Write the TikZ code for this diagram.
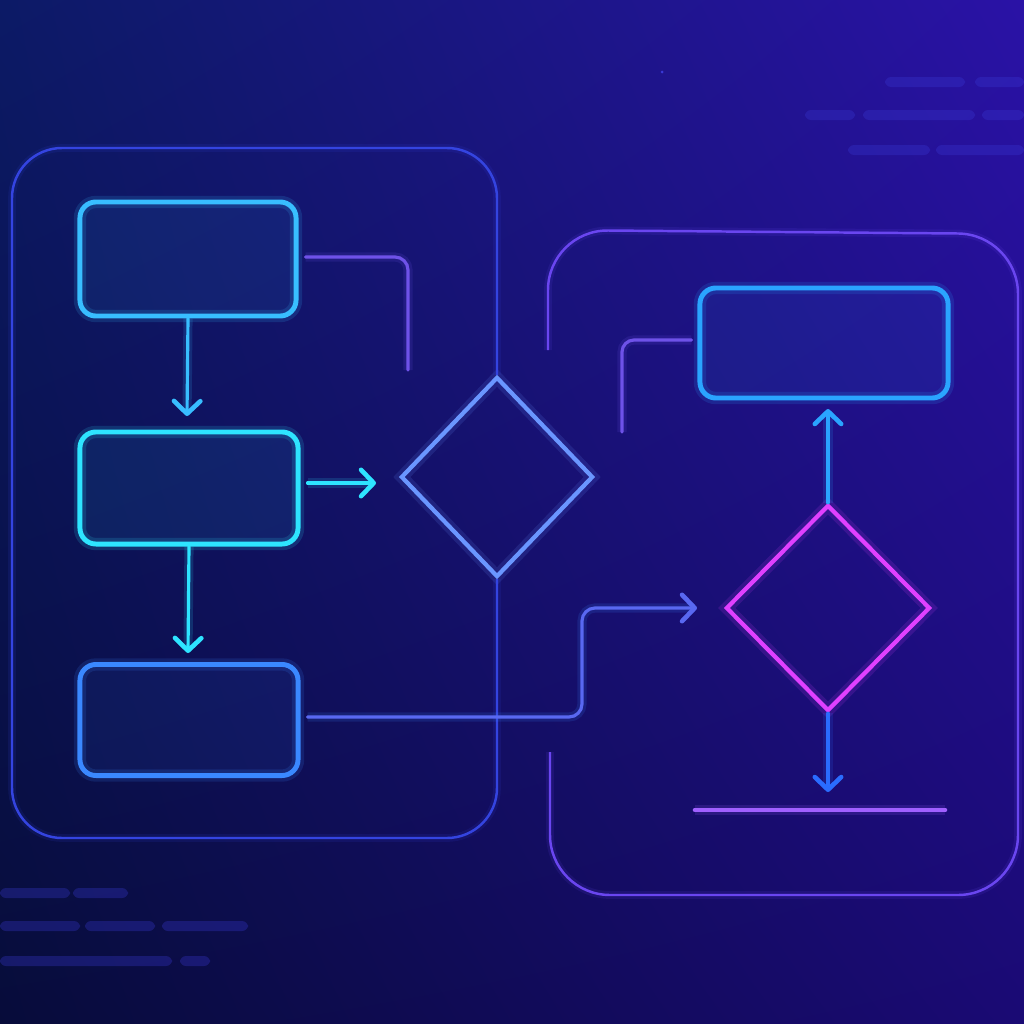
\documentclass[tikz,border=0pt]{standalone}
\usetikzlibrary{shapes.geometric,arrows.meta,shadings}
\definecolor{bgUL}{HTML}{0C1A66}
\definecolor{bgUR}{HTML}{2A12A6}
\definecolor{bgLL}{HTML}{070C3A}
\definecolor{bgLR}{HTML}{1A0A74}
\definecolor{cyanA}{HTML}{38BEFF}
\definecolor{cyanB}{HTML}{2EE4FF}
\definecolor{blueC}{HTML}{3A88FF}
\definecolor{cyanD}{HTML}{2AA4FF}
\definecolor{diaA}{HTML}{6A96FF}
\definecolor{diaB}{HTML}{E040FF}
\definecolor{wire}{HTML}{6E52E8}
\definecolor{panelL}{HTML}{3444E0}
\definecolor{panelR}{HTML}{6A46F0}
\definecolor{arrowB}{HTML}{2A6CFF}
\definecolor{lineP}{HTML}{A060FF}
\definecolor{fuzz}{HTML}{3A3AD8}
\tikzset{
  glowbox/.style={rectangle, rounded corners=1.6mm, draw=#1, line width=1.4pt,
    fill=#1, fill opacity=0.08, text opacity=1, inner sep=0pt,
    preaction={draw=#1, line width=3.5pt, draw opacity=0.15, fill opacity=0}},
  glowdia/.style={diamond, draw=#1, line width=1.2pt, inner sep=0pt,
    preaction={draw=#1, line width=3.5pt, draw opacity=0.14}},
  wireline/.style={draw=#1, line width=0.9pt, line cap=round,
    preaction={draw=#1, line width=2.6pt, draw opacity=0.15}},
  panel/.style={draw=#1, line width=0.7pt,
    preaction={draw=#1, line width=2.2pt, draw opacity=0.12}},
  arr/.style={wireline=#1, -{Straight Barb[length=3.6pt,width=7.5pt,round,line width=1.3pt]}},
  fuzzbar/.style={fill=fuzz, fill opacity=0.3, rounded corners=0.6mm}
}
\begin{document}
\begin{tikzpicture}[x=0.01cm,y=-0.01cm]
\useasboundingbox (0,0) rectangle (1024,1024);
\shade[upper left=bgUL, upper right=bgUR, lower left=bgLL, lower right=bgLR] (0,0) rectangle (1024,1024);

% blurred text lines
\foreach \a/\b/\y in {885/965/82, 975/1024/82, 805/855/115, 863/975/115, 982/1024/115, 848/930/150, 936/1024/150,
  0/70/893, 73/128/893, 0/80/926, 85/155/926, 162/248/926, 0/172/961, 180/210/961}
  \fill[fuzzbar] (\a,\y-5) rectangle (\b,\y+5);
\fill[fuzz] (662,72) circle (1.5);

% nodes
\node[glowbox=cyanA, minimum width=21.6mm, minimum height=11.4mm] (b1) at (188,259) {};
\node[glowbox=cyanB, minimum width=21.8mm, minimum height=11.2mm] (b2) at (189,488) {};
\node[glowbox=blueC, minimum width=21.8mm, minimum height=11.1mm] (b3) at (189,720) {};
\node[glowbox=cyanD, minimum width=24.8mm, minimum height=11.0mm] (b4) at (824,343) {};
\node[glowdia=diaA, minimum width=19.2mm, minimum height=20mm] (d1) at (497,477) {};
\node[glowdia=diaB, minimum width=20.4mm, minimum height=20.6mm] (d2) at (828,608) {};

% panels
\path[panel=panelL, rounded corners=5mm] (d1.north) -- (497,148) -- (12,148) -- (12,838) -- (497,838) -- (d1.south);
\coordinate (rpA) at (548,350);
\coordinate (rpB) at (550,752);
\path[panel=panelR, rounded corners=6mm] (rpA) -- (548,230) -- (1018,234) -- (1018,895) -- (550,895) -- (rpB);

% free ends
\coordinate (w1) at (408,370);
\coordinate (w2) at (622,432);

% connectors
\draw[arr=cyanA] (b1.south) -- (187,416);
\draw[arr=cyanB] (b2.south) -- (188,653);
\draw[arr=cyanB] ([xshift=0.7mm]b2.east |- 0,483) -- (376,483);
\path[wireline=wire, rounded corners=1.3mm] ([xshift=0.7mm]b1.east |- 0,257) -- (408,257) -- (w1);
\path[wireline=wire, rounded corners=1.2mm] ([xshift=-0.6mm]b4.west |- 0,340) -- (622,340) -- (w2);
\draw[arr=blueC, rounded corners=1.3mm, draw=wire!60!blueC] ([xshift=0.7mm]b3.east |- 0,717) -- (582,717) -- (582,608) -- (697,608);
\draw[arr=cyanD] (d2.north) -- (828,409);
\draw[arr=arrowB] (d2.south) -- (828,792);
\path[wireline=lineP, line width=1.3pt] (695,810) -- (945,810);
\end{tikzpicture}
\end{document}
